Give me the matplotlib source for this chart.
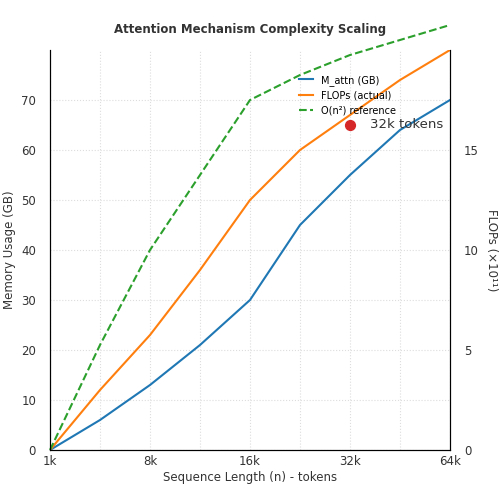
import matplotlib
matplotlib.use("Agg")
import matplotlib.pyplot as plt

xpos = [0, 0.5, 1, 1.5, 2, 2.5, 3, 3.5, 4]
tick_labels = ["1k", "8k", "16k", "32k", "64k"]
m_attn = [0, 6, 13, 21, 30, 45, 55, 64, 70]
flops = [0, 12, 23, 36, 50, 60, 67, 74, 80]
on2 = [0, 21, 40, 55, 70, 75, 79, 82, 85]

fig, ax = plt.subplots(figsize=(5, 5), dpi=100)
fig.subplots_adjust(left=0.1, right=0.9, top=0.9, bottom=0.1)
ax.plot(xpos, m_attn, color="#1f77b4", lw=1.5, label="M_attn (GB)")
ax.plot(xpos, flops, color="#ff7f0e", lw=1.5, label="FLOPs (actual)")
ax.plot(xpos, on2, color="#2ca02c", lw=1.5, ls="--", label="O(n²) reference", clip_on=False)
ax.scatter([3], [65], color="#d62728", s=50, zorder=5)
ax.text(3.2, 65, "32k tokens", fontsize=9.5, va="center", color="#333333")
ax.set_xlim(0, 4)
ax.set_ylim(0, 80)
ax.set_xticks([0, 1, 2, 3, 4])
ax.set_xticklabels(tick_labels)
ax.set_xticks([0.5, 1.5, 2.5, 3.5], minor=True)
ax.set_yticks(range(0, 80, 10))
ax.tick_params(axis="both", which="both", length=0, labelsize=8.5, colors="#333333")
ax.tick_params(axis="y", pad=10)
ax.grid(True, which="both", color="#dddddd", ls=":", lw=0.8)
ax.spines["top"].set_visible(False)
ax.set_xlabel("Sequence Length (n) - tokens", fontsize=8.5, color="#333333", labelpad=2)
ax.set_ylabel("Memory Usage (GB)", fontsize=8.5, color="#333333")
ax.set_title("Attention Mechanism Complexity Scaling", fontsize=8.5, fontweight="bold", color="#333333", pad=12)
ax2 = ax.twinx()
ax2.set_ylim(0, 20)
ax2.set_yticks([0, 5, 10, 15])
ax2.tick_params(length=0, labelsize=8.5, colors="#333333", pad=10)
ax2.spines["top"].set_visible(False)
ax2.set_ylabel("FLOPs (×10¹¹)", fontsize=8.5, color="#333333", rotation=270, labelpad=14)
ax.legend(loc="upper left", bbox_to_anchor=(0.6, 0.96), frameon=False, fontsize=7, handlelength=1.5)
fig.savefig("out.png")
